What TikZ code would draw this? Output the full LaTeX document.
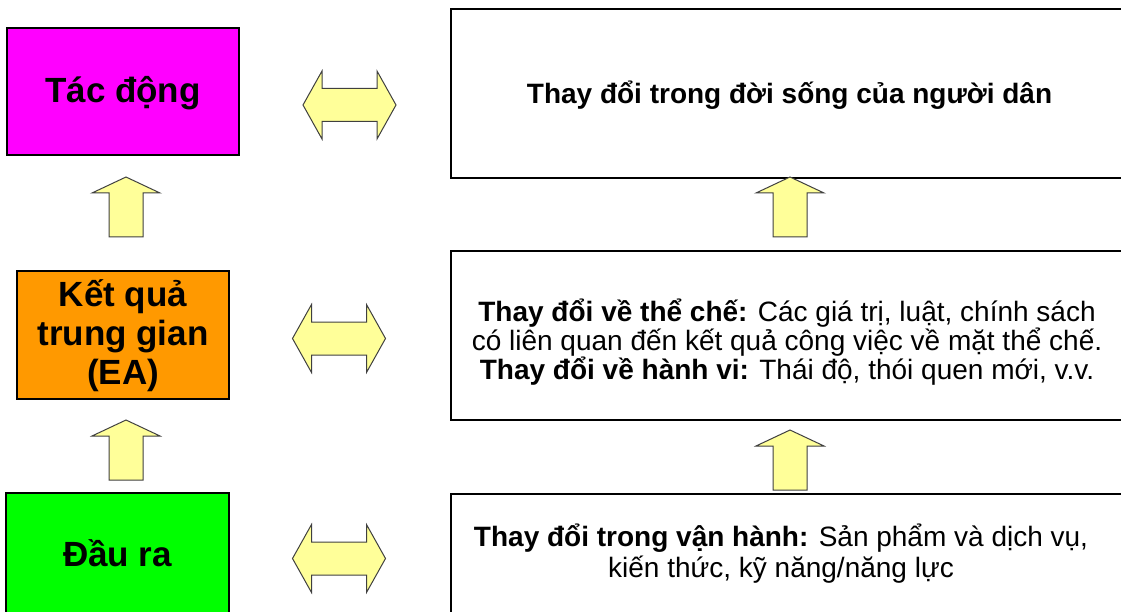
\documentclass[tikz,border=0pt]{standalone}
\usepackage{fontspec}
\setmainfont{Liberation Sans}
\begin{document}
\begin{tikzpicture}[x=1pt,y=-1pt,
  levelbox/.style={draw=black,line width=2pt,font=\bfseries\fontsize{35}{39}\selectfont,
    align=center,inner sep=0pt},
  descbox/.style={draw=black,line width=2pt,fill=white,inner sep=0pt},
  desctext/.style={font=\fontsize{28}{29}\selectfont,align=center,inner sep=0pt},
  blockarrow/.style={fill=arrowfill,draw=arrowline,line width=1pt,line join=miter},
  pics/uparrow/.style={code={
    \path[blockarrow] (0,0) -- (34,16) -- (17,16) -- (17,60) -- (-17,60)
      -- (-17,16) -- (-34,16) -- cycle;}},
  pics/bothways/.style={code={
    \path[blockarrow] (-46.5,0) -- (-27.5,-34) -- (-27.5,-16.5) -- (27.5,-16.5)
      -- (27.5,-34) -- (46.5,0) -- (27.5,34) -- (27.5,16.5) -- (-27.5,16.5)
      -- (-27.5,34) -- cycle;}}
]
\definecolor{arrowfill}{HTML}{FFFF99}
\definecolor{arrowline}{HTML}{404040}
\definecolor{impactcol}{HTML}{FF00FF}
\definecolor{midcol}{HTML}{FF9900}
\definecolor{outcol}{HTML}{00FF00}
\useasboundingbox (0,0) rectangle (1121,612);

% results chain on the left
\node[levelbox,fill=impactcol,minimum width=232pt,minimum height=127pt,
  text depth=4pt] (impact) at (123,91.5) {Tác động};
\node[levelbox,fill=midcol,minimum width=212pt,minimum height=128pt,
  text depth=5pt] (mid) at (123,335) {Kết quả\\trung gian\\(EA)};
\node[levelbox,fill=outcol,minimum width=223pt,minimum height=120pt] (out)
  at (117.5,553) {Đầu ra};

% descriptions on the right
\node[descbox,minimum width=690pt,minimum height=169pt,anchor=north west] (impactd)
  at (450,8) {};
\node[desctext,font=\bfseries\fontsize{28}{29}\selectfont] (impactt) at (789.5,95)
  {Thay đổi trong đời sống của người dân};
\node[descbox,minimum width=690pt,minimum height=169pt,anchor=north west] (midd)
  at (450,250) {};
\node[desctext] (midt) at (787,342)
  {\textbf{Thay đổi về thể chế:} Các giá trị, luật, chính sách\\
   có liên quan đến kết quả công việc về mặt thể chế.\\
   \textbf{Thay đổi về hành vi:} Thái độ, thói quen mới, v.v.};
\node[descbox,minimum width=690pt,minimum height=140pt,anchor=north west] (outd)
  at (450,493) {};
\node[desctext,font=\fontsize{28}{31}\selectfont] (outt) at (781,554)
  {\textbf{Thay đổi trong vận hành:} Sản phẩm và dịch vụ,\\
   kiến thức, kỹ năng/năng lực};

% block arrows
\pic at (126,177) {uparrow};
\pic at (126,420) {uparrow};
\pic at (790,177) {uparrow};
\pic at (790,430) {uparrow};
\pic at (349.5,105) {bothways};
\pic at (339,338.5) {bothways};
\pic at (339,558.5) {bothways};
\end{tikzpicture}
\end{document}
